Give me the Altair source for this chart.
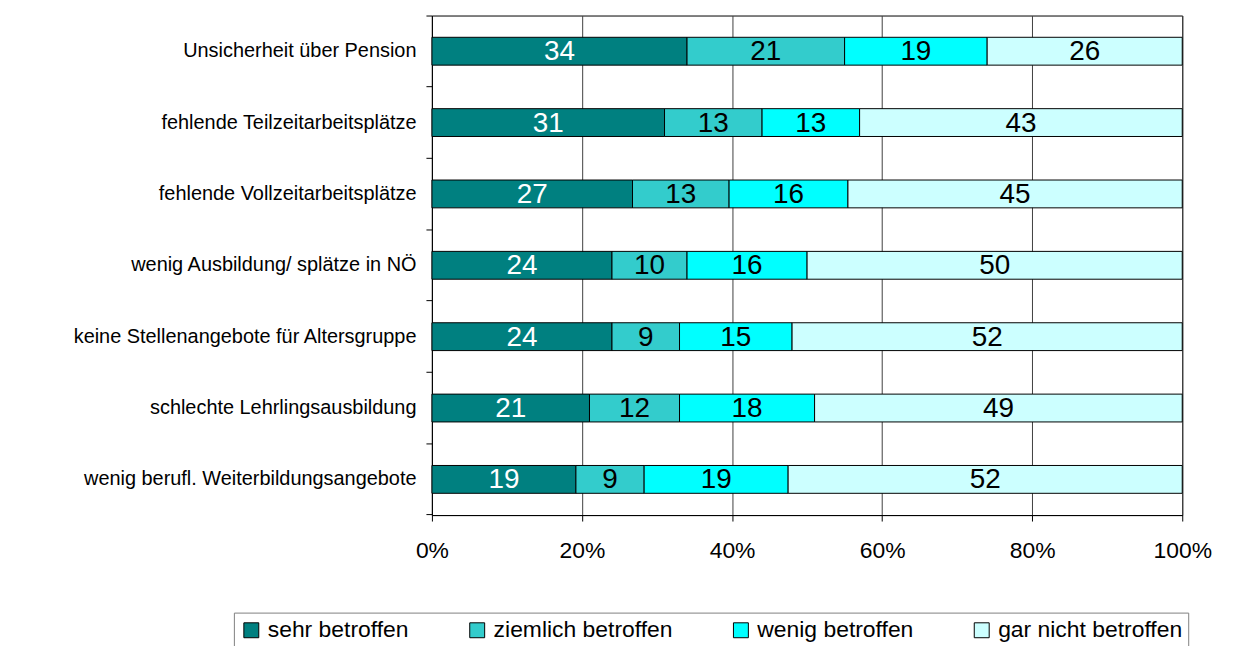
import altair as alt
import pandas as pd

categories = [
    "Unsicherheit über Pension",
    "fehlende Teilzeitarbeitsplätze",
    "fehlende Vollzeitarbeitsplätze",
    "wenig Ausbildung/ splätze in NÖ",
    "keine Stellenangebote für Altersgruppe",
    "schlechte Lehrlingsausbildung",
    "wenig berufl. Weiterbildungsangebote",
]
series = ["sehr betroffen", "ziemlich betroffen", "wenig betroffen", "gar nicht betroffen"]
sehr = [34, 31, 27, 24, 24, 21, 19]
ziemlich = [21, 13, 13, 10, 9, 12, 9]
wenig = [19, 13, 16, 16, 15, 18, 19]
gar_nicht = [26, 43, 45, 50, 52, 49, 52]
colors = ["#008080", "#33CCCC", "#00FFFF", "#CCFFFF"]
x_ticks = [0, 0.2, 0.4, 0.6, 0.8, 1.0]

rows = []
for s_i, (s, vals) in enumerate(zip(series, [sehr, ziemlich, wenig, gar_nicht])):
    for c, v in zip(categories, vals):
        rows.append({"cat": c, "series": s, "order": s_i, "value": v})
df = pd.DataFrame(rows)

FONT = "Liberation Sans"

base = alt.Chart(df).transform_stack(
    stack="value",
    groupby=["cat"],
    as_=["x0", "x1"],
    offset="normalize",
    sort=[alt.SortField("order", order="ascending")],
).transform_calculate(xm="(datum.x0 + datum.x1) / 2")

y_enc = alt.Y(
    "cat:N",
    sort=categories,
    title=None,
    scale=alt.Scale(paddingInner=0, paddingOuter=0),
    axis=alt.Axis(
        labelFont=FONT,
        labelFontSize=20,
        labelColor="black",
        labelPadding=10,
        tickSize=6,
        tickColor="black",
        domainColor="black",
        bandPosition=1,
        tickExtra=True,
        labelLimit=500,
    ),
)

bars = base.mark_bar(height={"band": 0.39}, stroke="black", strokeWidth=1).encode(
    y=y_enc,
    x=alt.X(
        "x0:Q",
        scale=alt.Scale(domain=[0, 1]),
        title=None,
        axis=alt.Axis(
            values=x_ticks,
            format=".0%",
            labelFont=FONT,
            labelFontSize=23,
            labelColor="black",
            labelPadding=19,
            labelFlush=False,
            tickSize=6,
            tickColor="black",
            domainColor="black",
            grid=True,
            gridColor="#404040",
            gridWidth=1,
        ),
    ),
    x2="x1:Q",
    color=alt.Color(
        "series:N",
        sort=series,
        scale=alt.Scale(domain=series, range=colors),
        legend=alt.Legend(
            title=None,
            orient="none",
            direction="horizontal",
            legendX=-199,
            legendY=600,
            symbolType="square",
            symbolSize=225,
            symbolStrokeColor="black",
            symbolStrokeWidth=1,
            symbolOpacity=1,
            labelFont=FONT,
            labelFontSize=23,
            labelColor="black",
            labelOffset=5,
            columnPadding=57,
            strokeColor="#808080",
            padding=6,
            labelLimit=400,
        ),
    ),
    order=alt.Order("order:Q"),
)

labels = base.mark_text(font=FONT, fontSize=28, baseline="middle", dy=1).encode(
    y=alt.Y("cat:N", sort=categories),
    x=alt.X("xm:Q"),
    text=alt.Text("value:Q"),
    color=alt.condition(alt.datum.series == "sehr betroffen", alt.value("white"), alt.value("black")),
)

chart = (
    alt.layer(bars, labels)
    .properties(
        width=754,
        height=502,
        autosize=alt.AutoSizeParams(type="none"),
        padding={"left": 426, "top": 6, "right": 50, "bottom": 130},
    )
    .configure_view(stroke="black", strokeWidth=1)
)

chart.save("out.html", embed_options={"renderer": "svg", "actions": False})
